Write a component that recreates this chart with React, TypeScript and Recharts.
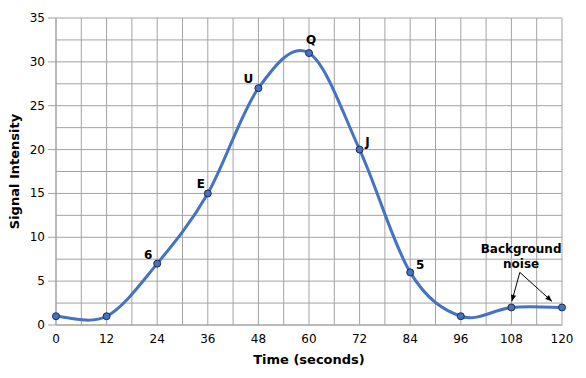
import React from 'react';
import {
    LineChart,
    Line,
    XAxis,
    YAxis,
    CartesianGrid,
    LabelList,
    ReferenceLine,
    ReferenceDot,
} from 'recharts';

// readings
const times = [0, 12, 24, 36, 48, 60, 72, 84, 96, 108, 120];
const intensity = [1, 1, 7, 15, 27, 31, 20, 6, 1, 2, 2];
const pointNames = ['', '', '6', 'E', 'U', 'Q', 'J', '5', '', '', ''];
const xTicks = [0, 6, 12, 18, 24, 30, 36, 42, 48, 54, 60, 66, 72, 78, 84, 90, 96, 102, 108, 114, 120];
const yTicks = [0, 2.5, 5, 7.5, 10, 12.5, 15, 17.5, 20, 22.5, 25, 27.5, 30, 32.5, 35];
const noiseArrows = [
    { from: [110, 6.0], to: [108.1, 2.7] },
    { from: [110, 6.0], to: [117.6, 2.7] },
];
const noiseText = ['Background', 'noise'];
const noiseTextAt = [110.3, 8.2];

const data = times.map((t, i) => ({ t, v: intensity[i], name: pointNames[i] }));

const FONT = 'Verdana, "DejaVu Sans", sans-serif';
const GRID = '#a3a3a3';
const BLUE = '#4472C4';

// catmull-rom style smoothing, like a spreadsheet "smoothed line"
const smoothCurve = (context: any) => {
    let pts: number[][] = [];
    return {
        areaStart() {},
        areaEnd() {},
        lineStart() {
            pts = [];
        },
        point(x: number, y: number) {
            pts.push([+x, +y]);
        },
        lineEnd() {
            if (!pts.length) return;
            context.moveTo(pts[0][0], pts[0][1]);
            for (let i = 0; i < pts.length - 1; i++) {
                const p0 = pts[Math.max(i - 1, 0)];
                const p1 = pts[i];
                const p2 = pts[i + 1];
                const p3 = pts[Math.min(i + 2, pts.length - 1)];
                context.bezierCurveTo(
                    p1[0] + (p2[0] - p0[0]) / 6,
                    p1[1] + (p2[1] - p0[1]) / 6,
                    p2[0] - (p3[0] - p1[0]) / 6,
                    p2[1] - (p3[1] - p1[1]) / 6,
                    p2[0],
                    p2[1]
                );
            }
        },
    };
};

const YTick = (props: any) => {
    const { x, y, payload } = props;
    if (payload.value % 5 !== 0) return null;
    return (
        <g>
            <line x1={x + 3} x2={x + 11} y1={y} y2={y} stroke={GRID} />
            <text x={x} y={y} dy={4} textAnchor="end" fontSize={12} fontFamily={FONT} fill="#000">
                {payload.value}
            </text>
        </g>
    );
};

const XTick = (props: any) => {
    const { x, y, payload } = props;
    if (payload.value % 12 !== 0) return null;
    return (
        <text x={x} y={y} dy={10} textAnchor="middle" fontSize={12} fontFamily={FONT} fill="#000">
            {payload.value}
        </text>
    );
};

const offsets: Record<string, [number, number]> = {
    '6': [-9, -5],
    E: [-7, -5],
    U: [-10, -5],
    Q: [2, -9],
    J: [8, -4],
    5: [10, -3],
};

const PointName = (props: any) => {
    const { x, y, value } = props;
    if (!value) return null;
    const [dx, dy] = offsets[value] || [0, 0];
    return (
        <text x={x + dx} y={y + dy} textAnchor="middle" fontSize={12} fontWeight="bold" fontFamily={FONT} fill="#000">
            {value}
        </text>
    );
};

const Arrow = (props: any) => {
    const { x1, y1, x2, y2 } = props;
    const a = Math.atan2(y2 - y1, x2 - x1);
    const len = 7;
    const w = 0.4;
    return (
        <g>
            <line x1={x1} y1={y1} x2={x2} y2={y2} stroke="#000" strokeWidth={1} />
            <path
                d={`M${x2},${y2} L${x2 - len * Math.cos(a - w)},${y2 - len * Math.sin(a - w)} L${x2 - len * Math.cos(a + w)},${y2 - len * Math.sin(a + w)} Z`}
                fill="#000"
            />
        </g>
    );
};

const NoiseText = (props: any) => {
    const { cx, cy } = props;
    return (
        <text x={cx} y={cy} textAnchor="middle" fontSize={12} fontWeight="bold" fontFamily={FONT} fill="#000">
            {noiseText.map((s, i) => (
                <tspan key={s} x={cx} dy={i === 0 ? 0 : 15}>
                    {s}
                </tspan>
            ))}
        </text>
    );
};

const App = () => {
    return (
        <div style={{ position: 'absolute', left: 0, top: 0, background: '#fff' }}>
            <LineChart width={586} height={378} data={data} margin={{ top: 18, right: 24, bottom: 11, left: 0 }}>
                <CartesianGrid stroke={GRID} strokeWidth={1} />
                <XAxis
                    dataKey="t"
                    type="number"
                    domain={[0, 120]}
                    ticks={xTicks}
                    interval={0}
                    tickLine={false}
                    axisLine={{ stroke: GRID }}
                    tick={<XTick />}
                    height={42}
                    label={{
                        value: 'Time (seconds)',
                        position: 'insideBottom',
                        offset: 3,
                        fontSize: 13,
                        fontWeight: 'bold',
                        fontFamily: FONT,
                        fill: '#000',
                    }}
                />
                <YAxis
                    type="number"
                    domain={[0, 35]}
                    ticks={yTicks}
                    interval={0}
                    tickLine={false}
                    tickSize={8}
                    tickMargin={3}
                    axisLine={{ stroke: GRID }}
                    tick={<YTick />}
                    width={56}
                    label={{
                        content: (p: any) => {
                            const vb = p.viewBox;
                            const cx = vb.x + 14;
                            const cy = vb.y + vb.height / 2;
                            return (
                                <text
                                    x={cx}
                                    y={cy}
                                    transform={`rotate(-90 ${cx} ${cy})`}
                                    textAnchor="middle"
                                    dominantBaseline="central"
                                    fontSize={13}
                                    fontWeight="bold"
                                    fontFamily={FONT}
                                    fill="#000"
                                >
                                    Signal Intensity
                                </text>
                            );
                        },
                    }}
                />
                {noiseArrows.map((a, i) => (
                    <ReferenceLine
                        key={i}
                        segment={[
                            { x: a.from[0], y: a.from[1] },
                            { x: a.to[0], y: a.to[1] },
                        ]}
                        shape={<Arrow />}
                    />
                ))}
                <ReferenceDot x={noiseTextAt[0]} y={noiseTextAt[1]} r={0} shape={<NoiseText />} />
                <Line
                    dataKey="v"
                    type={smoothCurve as any}
                    stroke={BLUE}
                    strokeWidth={3}
                    dot={{ r: 3.5, fill: BLUE, stroke: '#1f2d4a', strokeWidth: 1 }}
                    activeDot={false}
                    isAnimationActive={false}
                >
                    <LabelList dataKey="name" content={<PointName />} />
                </Line>
            </LineChart>
        </div>
    );
};

export default App;
